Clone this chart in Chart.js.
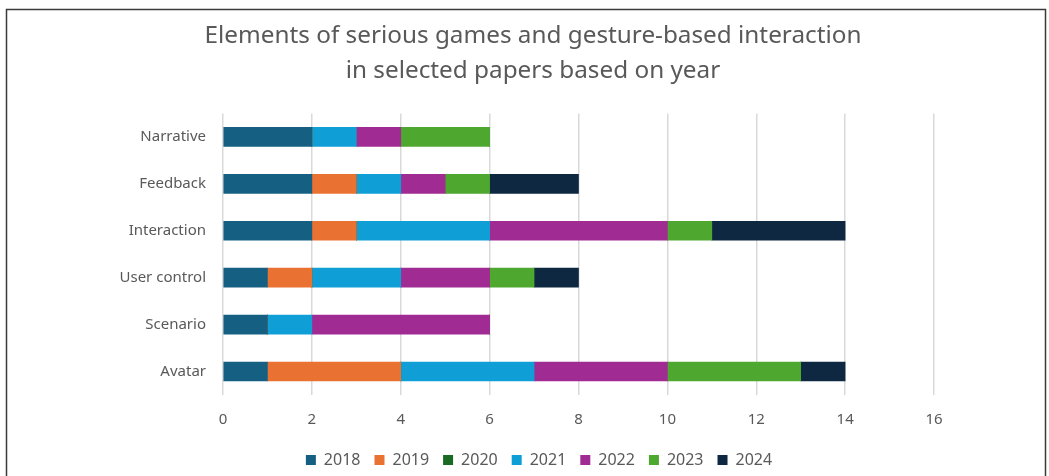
<!DOCTYPE html>
<html>
<head>
<meta charset="utf-8">
<script src="https://cdn.jsdelivr.net/npm/chart.js@4/dist/chart.umd.min.js"></script>
<style>
    body { margin: 0; background: #fff; }
    #wrap { position: relative; width: 1049px; height: 476px; }
</style>
</head>
<body>
<div id="wrap"><canvas id="elements-chart"></canvas></div>
<script>
const categories = ["Narrative", "Feedback", "Interaction", "User control", "Scenario", "Avatar"];
const years = ["2018", "2019", "2020", "2021", "2022", "2023", "2024"];
const values2018 = [2, 2, 2, 1, 1, 1];
const values2019 = [0, 1, 1, 1, 0, 3];
const values2020 = [0, 0, 0, 0, 0, 0];
const values2021 = [1, 1, 3, 2, 1, 3];
const values2022 = [1, 1, 4, 2, 4, 3];
const values2023 = [2, 1, 1, 1, 0, 3];
const values2024 = [0, 2, 3, 1, 0, 1];
const xTicks = [0, 2, 4, 6, 8, 10, 12, 14, 16];

const yearColors = ["#156082", "#E97132", "#196B24", "#0F9ED5", "#A02B93", "#4EA72E", "#0E2841"];
const allValues = [values2018, values2019, values2020, values2021, values2022, values2023, values2024];

const textColor = "#595959";
const fontFamily = "'Noto Sans', 'Liberation Sans', sans-serif";

// frame round the chart, like the exported picture
const framePlugin = {
    id: "frame",
    beforeDraw(chart) {
        const ctx = chart.ctx;
        ctx.save();
        ctx.fillStyle = "#fff";
        ctx.fillRect(0, 0, chart.width, chart.height);
        ctx.strokeStyle = "#3a3a3a";
        ctx.lineWidth = 1.5;
        ctx.strokeRect(6.5, 9.5, 1039, 520);
        ctx.restore();
    },
    afterLayout(chart) {
        // title and legend sit a bit right of the layout centre in the original
        if (chart.titleBlock) {
            chart.titleBlock.left += 16;
            chart.titleBlock.right += 16;
        }
        if (chart.legend) {
            chart.legend.left += 22;
            chart.legend.right += 22;
        }
    }
};

const datasets = years.map((year, i) => ({
    label: year,
    data: allValues[i],
    backgroundColor: yearColors[i],
    borderWidth: 0,
    barThickness: 19
}));

new Chart(document.getElementById("elements-chart"), {
    type: "bar",
    data: {
        labels: categories,
        datasets: datasets
    },
    options: {
        indexAxis: "y",
        responsive: true,
        maintainAspectRatio: false,
        animation: false,
        layout: {
            padding: { left: 100, right: 115, top: 18, bottom: -2 }
        },
        scales: {
            x: {
                stacked: true,
                min: 0,
                max: 16,
                afterBuildTicks: scale => { scale.ticks = xTicks.map(v => ({ value: v })); },
                afterFit: scale => { scale.height = 43; },
                grid: { color: "#d9d9d9", lineWidth: 1.5, drawTicks: false },
                border: { display: false },
                ticks: {
                    color: textColor,
                    padding: 16,
                    font: { family: fontFamily, size: 15 }
                }
            },
            y: {
                stacked: true,
                afterFit: scale => { scale.width = 123; },
                grid: { display: false, drawTicks: false },
                border: { display: false },
                ticks: {
                    color: textColor,
                    padding: 17,
                    font: { family: fontFamily, size: 15 }
                }
            }
        },
        plugins: {
            title: {
                display: true,
                text: ["Elements of serious games and gesture-based interaction", "in selected papers based on year"],
                color: textColor,
                font: { family: fontFamily, size: 24.3, weight: "normal", lineHeight: 1.45 },
                padding: { top: 0, bottom: 25 }
            },
            legend: {
                position: "bottom",
                labels: {
                    color: textColor,
                    boxWidth: 10,
                    boxHeight: 10,
                    padding: 14,
                    font: { family: fontFamily, size: 16 }
                }
            },
            tooltip: { enabled: false }
        }
    },
    plugins: [framePlugin]
});
</script>
</body>
</html>
